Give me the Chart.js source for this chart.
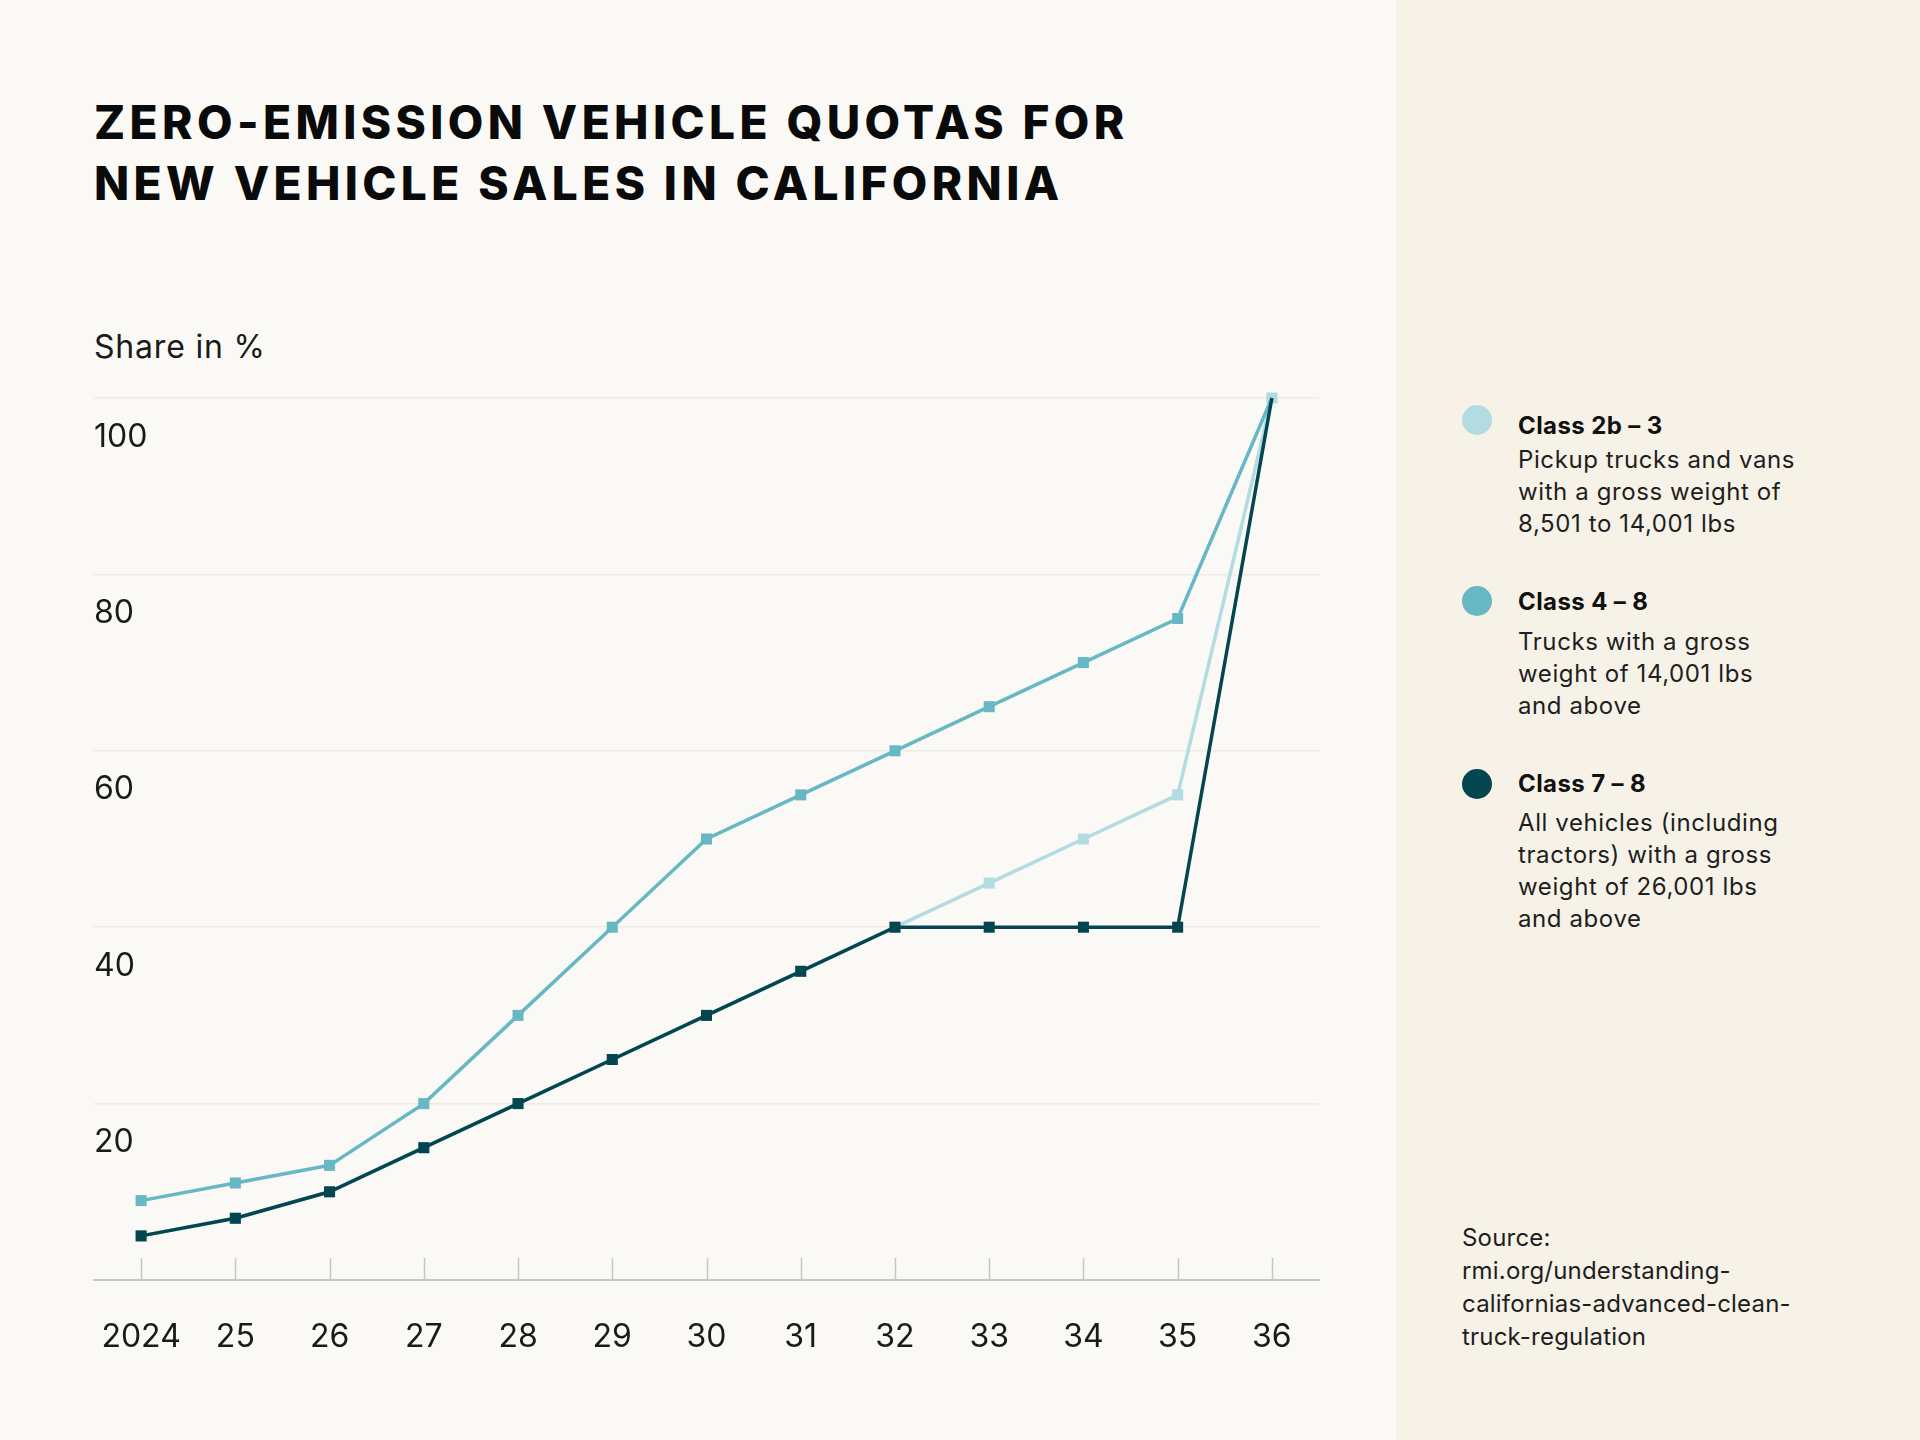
<!DOCTYPE html>
<html>
<head>
<meta charset="utf-8">
<title>Zero-emission vehicle quotas</title>
<script src="https://cdn.jsdelivr.net/npm/chart.js@4.4.1/dist/chart.umd.min.js"></script>
<style>
  html, body { margin: 0; padding: 0; }
  body {
    width: 1920px; height: 1440px; position: relative; overflow: hidden;
    background: #faf9f6; font-family: "Inter", "DejaVu Sans", sans-serif; color: #111;
  }
  #side { position: absolute; left: 1396px; top: 0; width: 524px; height: 1440px; background: #f6f2e8; }
  #title {
    position: absolute; left: 94px; top: 92px; margin: 0;
    font-size: 46px; font-weight: 800; line-height: 61px; letter-spacing: 4.4px; color: #0a0a0a;
  }
  #unit { position: absolute; left: 94px; top: 327px; font-size: 32px; line-height: 40px; letter-spacing: 0.8px; color: #1a1a1a; }
  #wrap { position: absolute; left: 0; top: 0; width: 1396px; height: 1440px; }
  .dot { position: absolute; left: 1462px; width: 30px; height: 30px; border-radius: 50%; }
  .lt { position: absolute; left: 1518px; font-size: 24px; font-weight: 700; line-height: 32px; letter-spacing: 0.4px; color: #111; }
  .ld { position: absolute; left: 1518px; font-size: 24px; line-height: 32px; letter-spacing: 0.6px; color: #1e1e1e; }
  #source { position: absolute; left: 1462px; top: 1221px; font-size: 24px; line-height: 33px; letter-spacing: 0.2px; color: #1e1e1e; }
</style>
</head>
<body>
<div id="side"></div>
<h1 id="title">ZERO-EMISSION VEHICLE QUOTAS FOR<br>NEW VEHICLE SALES IN CALIFORNIA</h1>
<div id="unit">Share in %</div>
<div id="wrap"><canvas id="chart"></canvas></div>

<div class="dot" style="top:405px; background:#b2dce2"></div>
<div class="lt" style="top:410px">Class 2b – 3</div>
<div class="ld" style="top:444px">Pickup trucks and vans<br>with a gross weight of<br>8,501 to 14,001 lbs</div>

<div class="dot" style="top:586px; background:#67b7c5"></div>
<div class="lt" style="top:586px">Class 4 – 8</div>
<div class="ld" style="top:626px">Trucks with a gross<br>weight of 14,001 lbs<br>and above</div>

<div class="dot" style="top:769px; background:#034650"></div>
<div class="lt" style="top:768px">Class 7 – 8</div>
<div class="ld" style="top:807px">All vehicles (including<br>tractors) with a gross<br>weight of 26,001 lbs<br>and above</div>

<div id="source">Source:<br>rmi.org/understanding-<br>californias-advanced-clean-<br>truck-regulation</div>

<script>
// Chart data
var years = ['2024', '25', '26', '27', '28', '29', '30', '31', '32', '33', '34', '35', '36'];
var class2b3 = [5, 7, 10, 15, 20, 25, 30, 35, 40, 45, 50, 55, 100];
var class48 = [9, 11, 13, 20, 30, 40, 50, 55, 60, 65, 70, 75, 100];
var class78 = [5, 7, 10, 15, 20, 25, 30, 35, 40, 40, 40, 40, 100];
var yTicks = [0, 20, 40, 60, 80, 100];

var colLight = '#b2dce2';
var colMid = '#67b7c5';
var colDark = '#034650';
var axisGray = '#c6c6c4';

// hide the last marker on the lower lines so the top square shows the light one
function radii(n, hideLast) {
    var r = [];
    for (var i = 0; i < n; i++) r.push(hideLast && i === n - 1 ? 0 : 7.8);
    return r;
}

function lineSet(label, data, color, hideLast) {
    return {
        label: label,
        data: data,
        borderColor: color,
        backgroundColor: color,
        pointBackgroundColor: color,
        pointBorderWidth: 0,
        pointStyle: 'rect',
        pointRadius: radii(data.length, hideLast),
        borderWidth: 3.5,
        tension: 0,
        clip: false
    };
}

// small upward tick marks on the x axis
var xTickMarks = {
    id: 'xTickMarks',
    afterDraw: function (chart) {
        var ctx = chart.ctx;
        var xs = chart.scales.x;
        var bottom = chart.chartArea.bottom;
        ctx.save();
        ctx.strokeStyle = axisGray;
        ctx.lineWidth = 1.5;
        for (var i = 0; i < xs.ticks.length; i++) {
            var x = Math.round(xs.getPixelForTick(i)) + 0.5;
            ctx.beginPath();
            ctx.moveTo(x, bottom - 22);
            ctx.lineTo(x, bottom);
            ctx.stroke();
        }
        ctx.restore();
    }
};

var ctx = document.getElementById('chart').getContext('2d');
new Chart(ctx, {
    type: 'line',
    data: {
        labels: years,
        datasets: [
            lineSet('Class 7 – 8', class78, colDark, true),
            lineSet('Class 4 – 8', class48, colMid, true),
            lineSet('Class 2b – 3', class2b3, colLight, false)
        ]
    },
    options: {
        responsive: true,
        maintainAspectRatio: false,
        animation: false,
        devicePixelRatio: 1,
        layout: { padding: { left: 94, right: 77, top: 398, bottom: 0 } },
        plugins: {
            legend: { display: false },
            tooltip: { enabled: false }
        },
        scales: {
            x: {
                type: 'category',
                offset: true,
                afterFit: function (scale) { scale.height = 160; },
                grid: { display: false, drawTicks: false },
                border: { display: true, color: axisGray, width: 2 },
                ticks: {
                    color: '#1a1a1a',
                    padding: 38,
                    maxRotation: 0,
                    autoSkip: false,
                    font: { family: 'Inter', size: 32 }
                }
            },
            y: {
                min: 0,
                max: 100,
                afterFit: function (scale) { scale.width = 0; },
                afterBuildTicks: function (scale) {
                    scale.ticks = yTicks.map(function (v) { return { value: v }; });
                },
                grid: {
                    drawTicks: false,
                    lineWidth: 1.5,
                    color: function (c) { return c.tick && c.tick.value === 0 ? 'rgba(0,0,0,0)' : '#ecebe4'; }
                },
                border: { display: false },
                ticks: {
                    mirror: true,
                    padding: 0,
                    labelOffset: 39,
                    color: '#1a1a1a',
                    font: { family: 'Inter', size: 32 },
                    callback: function (v) { return v === 0 ? '' : v; }
                }
            }
        }
    },
    plugins: [xTickMarks]
});
</script>
</body>
</html>
